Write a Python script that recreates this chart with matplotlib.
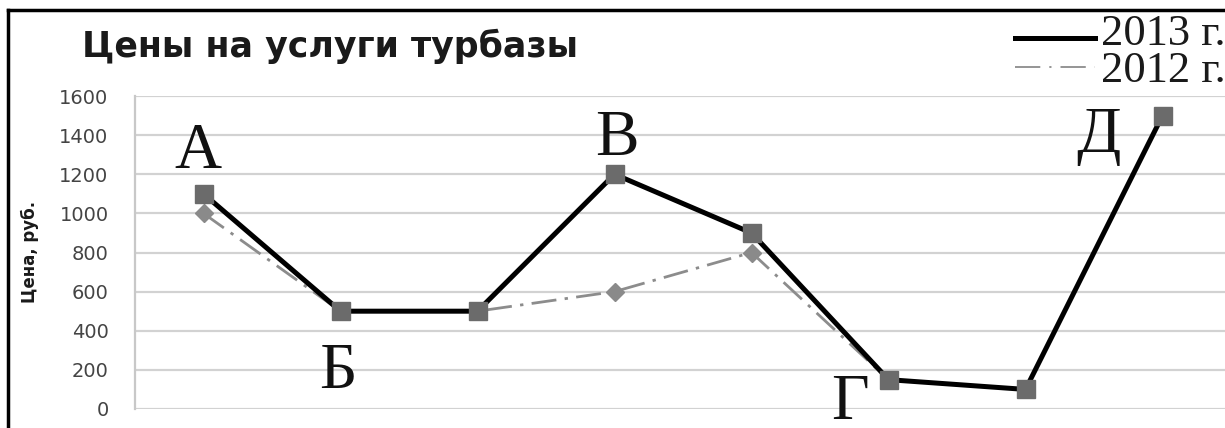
import numpy as np
import matplotlib
matplotlib.use("Agg")
import matplotlib.pyplot as plt
from matplotlib.lines import Line2D

# chart data
categories = ["1", "2", "3", "4", "5", "6", "7", "8"]
prices_2013 = [1100, 500, 500, 1200, 900, 150, 100, 1500]
prices_2012 = [1000, 500, 500, 600, 800, 150, np.nan, np.nan]
y_ticks = [0, 200, 400, 600, 800, 1000, 1200, 1400, 1600]

# point letters: (letter, category index, value at baseline)
point_letters = ["А", "Б", "В", "Г", "Д"]
letter_x = [-0.04, 0.98, 3.02, 4.72, 6.53]
letter_y = [1232, 107, 1298, -52, 1315]

W, H = 1225, 428
fig = plt.figure(figsize=(W / 100, H / 100), dpi=100)
ax = fig.add_axes([135 / W, 1 - 409 / H, (1231 - 135) / W, (409 - 96) / H])

x = np.arange(len(categories))

# 2012 first so 2013 sits on top
ax.plot(x, prices_2012, color="#8c8c8c", lw=2.0, dashes=(9, 3, 1.2, 3),
        marker="D", markersize=9, markerfacecolor="#8a8a8a",
        markeredgecolor="#8a8a8a", zorder=3)
ax.plot(x, prices_2013, color="black", lw=3.6,
        marker="s", markersize=12.5, markerfacecolor="#6b6b6b",
        markeredgecolor="#6b6b6b", zorder=4)

ax.set_xlim(-0.5, len(categories) - 0.5)
ax.set_ylim(0, 1600)
ax.set_yticks(y_ticks)
ax.set_yticklabels([str(t) for t in y_ticks], fontfamily="DejaVu Sans",
                   fontsize=14, color="#444444")
ax.set_xticks([])
ax.tick_params(axis="y", length=0, pad=19)
ax.grid(axis="y", color="#d2d2d2", lw=1.6)
ax.set_axisbelow(True)
for side in ["top", "right", "bottom"]:
    ax.spines[side].set_visible(False)
ax.spines["left"].set_color("#c8c8c8")
ax.spines["left"].set_linewidth(1.6)

for lbl, lx, ly in zip(point_letters, letter_x, letter_y):
    ax.text(lx, ly, lbl, fontfamily="Liberation Serif", fontsize=47,
            ha="center", va="baseline", color="#111111", clip_on=False,
            zorder=5)

# title and axis label
fig.text(82 / W, 1 - 57 / H, "Цены на услуги турбазы", fontfamily="DejaVu Sans",
         fontweight="bold", fontsize=25, color="#1a1a1a", ha="left",
         va="baseline")
fig.text(30 / W, 1 - 252 / H, "Цена, руб.",
         fontfamily=["Liberation Sans Narrow", "DejaVu Sans"],
         fontweight="bold", fontsize=12, rotation=90, ha="center",
         va="center", color="#1a1a1a")

# legend drawn by hand in the top right corner
fig.add_artist(Line2D([1015 / W, 1095 / W], [1 - 38 / H, 1 - 38 / H],
                      color="black", lw=3.6))
fig.add_artist(Line2D([1015 / W, 1095 / W], [1 - 67 / H, 1 - 67 / H],
                      color="#8c8c8c", lw=1.3, dashes=(14, 5, 1.2, 5)))
fig.text(1101 / W, 1 - 45 / H, "2013 г.", fontfamily="Liberation Serif",
         fontsize=32, color="#1a1a1a", ha="left", va="baseline")
fig.text(1101 / W, 1 - 82 / H, "2012 г.", fontfamily="Liberation Serif",
         fontsize=32, color="#1a1a1a", ha="left", va="baseline")

# black frame around the picture (cut off right and bottom)
fig.add_artist(Line2D([8 / W, 1.0], [1 - 10 / H, 1 - 10 / H],
                      color="black", lw=2.5))
fig.add_artist(Line2D([8 / W, 8 / W], [0.0, 1 - 10 / H],
                      color="black", lw=2.5))

fig.savefig("out.png", dpi=100)
